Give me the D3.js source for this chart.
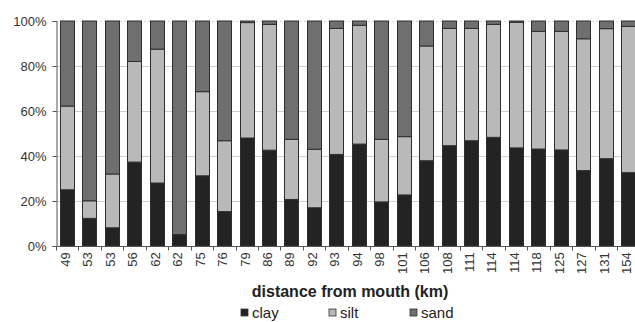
<!DOCTYPE html>
<html>
<head>
<meta charset="utf-8">
<script src="https://cdn.jsdelivr.net/npm/d3@7"></script>
<style>
  body { margin: 0; background: #fff; }
  svg { display: block; font-family: "Liberation Sans", Arial, sans-serif; }
</style>
</head>
<body>
<div id="chart"></div>
<script>
// distance from mouth (km) for each sample
const distances = [49, 53, 53, 56, 62, 62, 75, 76, 79, 86, 89, 92, 93, 94, 98, 101,
                   106, 108, 111, 114, 114, 118, 125, 127, 131, 154];
// percentages
const clay = [25, 12.3, 8.1, 37.3, 28, 4.9, 31.2, 15.3, 48, 42.6, 20.7, 17, 40.7, 45.3, 19.6, 22.7,
              37.9, 44.6, 46.8, 48.3, 43.6, 43.1, 42.7, 33.5, 38.8, 32.6];
const silt = [37.2, 7.8, 23.9, 44.7, 59.5, 0.2, 37.4, 31.5, 51.3, 55.9, 26.7, 26, 56, 52.8, 27.8, 25.9,
              51, 52.1, 49.9, 50.2, 55.8, 52.3, 52.7, 58.6, 57.8, 65];
const sand = [37.8, 79.9, 68, 18, 12.5, 94.9, 31.4, 53.2, 0.7, 1.5, 52.6, 57, 3.3, 1.9, 52.6, 51.4,
              11.1, 3.3, 3.3, 1.5, 0.6, 4.6, 4.6, 7.9, 3.4, 2.4];
const yTicks = [0, 20, 40, 60, 80, 100];
const seriesNames = ["clay", "silt", "sand"];
const seriesColors = ["#232323", "#b9b9b9", "#6f6f6f"];

const W = 635, H = 322;
const margin = { top: 21, left: 56, bottom: 76 };
const plotH = H - margin.top - margin.bottom;   // 0% line at y=246

const svg = d3.select("#chart").append("svg")
    .attr("width", W)
    .attr("height", H);

const rows = distances.map((d, i) => ({ i: i, label: d, clay: clay[i], silt: silt[i], sand: sand[i] }));
const stack = d3.stack().keys(seriesNames)(rows);

const x = d3.scaleBand()
    .domain(rows.map(d => d.i))
    .range([margin.left, 639.5])
    .paddingInner(0.36)
    .paddingOuter(0.18);

const y = d3.scaleLinear()
    .domain([0, 100])
    .range([margin.top + plotH, margin.top]);

const color = d3.scaleOrdinal().domain(seriesNames).range(seriesColors);

// gridlines
svg.append("g")
    .selectAll("line")
    .data(yTicks.filter(t => t > 0))
    .enter().append("line")
    .attr("x1", margin.left)
    .attr("x2", W)
    .attr("y1", d => Math.round(y(d)) + 0.5)
    .attr("y2", d => Math.round(y(d)) + 0.5)
    .attr("stroke", d => d === 100 ? "#d6d6d6" : "#cfcfcf")
    .attr("stroke-dasharray", d => d === 100 ? "2,2" : null);

// bars
svg.append("g")
    .selectAll("g")
    .data(stack)
    .enter().append("g")
    .attr("fill", d => color(d.key))
    .selectAll("rect")
    .data(d => d)
    .enter().append("rect")
    .attr("x", d => Math.round(x(d.data.i)) + 0.5)
    .attr("width", Math.round(x.bandwidth()))
    .attr("y", d => y(d[1]))
    .attr("height", d => y(d[0]) - y(d[1]))
    .attr("stroke", "#2e2e2e")
    .attr("stroke-width", 1);

// y axis
const yAxis = svg.append("g")
    .attr("transform", `translate(${margin.left + 0.5},0)`)
    .call(d3.axisLeft(y).tickValues(yTicks).tickFormat(d => d + "%").tickSize(4).tickPadding(6));
yAxis.select(".domain").attr("stroke", "#555");
yAxis.selectAll(".tick line").attr("stroke", "#555");
yAxis.selectAll("text")
    .attr("fill", "#333")
    .style("font-size", "13px");

// x axis: labels centered on bars, tick marks on the band boundaries
const xAxis = svg.append("g")
    .attr("transform", `translate(0,${Math.round(y(0)) + 0.5})`)
    .call(d3.axisBottom(x).tickFormat(i => distances[i]).tickSize(0).tickPadding(8));
xAxis.select(".domain").attr("stroke", "#555").attr("d", `M${margin.left},0H${W}`);
xAxis.selectAll("text")
    .attr("fill", "#333")
    .style("font-size", "13px")
    .style("text-anchor", "end")
    .attr("dx", "-0.45em")
    .attr("dy", "-0.4em")
    .attr("transform", "rotate(-90)");

xAxis.append("g")
    .selectAll("line")
    .data(d3.range(distances.length + 1))
    .enter().append("line")
    .attr("x1", i => Math.round(margin.left + i * x.step()) + 0.5)
    .attr("x2", i => Math.round(margin.left + i * x.step()) + 0.5)
    .attr("y1", 0)
    .attr("y2", 4)
    .attr("stroke", "#555");

// axis title
svg.append("text")
    .attr("x", 350)
    .attr("y", 297)
    .attr("text-anchor", "middle")
    .style("font-size", "16px")
    .style("font-weight", "bold")
    .attr("fill", "#222")
    .text("distance from mouth (km)");

// legend
const legendX = [241, 329, 410];
const legend = svg.append("g")
    .selectAll("g")
    .data(seriesNames)
    .enter().append("g")
    .attr("transform", (d, i) => `translate(${legendX[i]},309)`);

legend.append("rect")
    .attr("width", 7)
    .attr("height", 7)
    .attr("fill", d => color(d))
    .attr("stroke", "#333")
    .attr("stroke-width", 0.8);

legend.append("text")
    .attr("x", 11)
    .attr("y", 8.5)
    .style("font-size", "15px")
    .attr("fill", "#222")
    .text(d => d);
</script>
</body>
</html>
